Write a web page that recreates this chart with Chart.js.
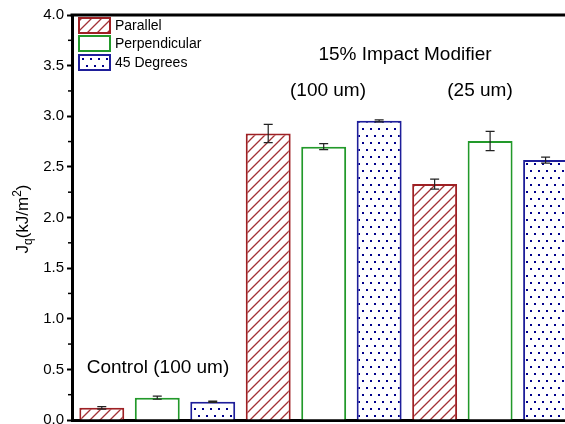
<!DOCTYPE html>
<html>
<head>
<meta charset="utf-8">
<script src="https://cdn.jsdelivr.net/npm/chart.js@4"></script>
<style>
  html, body { margin: 0; padding: 0; background: #fff; overflow: hidden; }
  #wrap { width: 565px; height: 424px; }
</style>
</head>
<body>
<div id="wrap"><canvas id="chart" width="565" height="424"></canvas></div>
<script>
// data
const groups = ['Control (100 um)', '15% Impact Modifier (100 um)', '15% Impact Modifier (25 um)'];
const orientations = ['Parallel', 'Perpendicular', '45 Degrees'];
const parallel = [0.12, 2.83, 2.33];
const parallelErr = [0.012, 0.09, 0.05];
const perpendicular = [0.22, 2.70, 2.755];
const perpendicularErr = [0.015, 0.03, 0.095];
const degrees45 = [0.18, 2.955, 2.567];
const degrees45Err = [0.006, 0.01, 0.03];
const yTicks = [0, 0.5, 1, 1.5, 2, 2.5, 3, 3.5, 4];

const FONT = "'Liberation Sans', Arial, sans-serif";
const red = '#9E2024';
const green = '#22992A';
const blue = '#1E1E9A';

function hatchPattern() {
    const c = document.createElement('canvas');
    c.width = 10; c.height = 10;
    const g = c.getContext('2d');
    g.fillStyle = '#fff';
    g.fillRect(0, 0, 10, 10);
    g.strokeStyle = '#A33236';
    g.lineWidth = 1.3;
    g.beginPath();
    g.moveTo(-1, 11); g.lineTo(11, -1);
    g.moveTo(-6, 6); g.lineTo(6, -6);
    g.moveTo(4, 16); g.lineTo(16, 4);
    g.stroke();
    return g.createPattern(c, 'repeat');
}

function dotPattern() {
    const c = document.createElement('canvas');
    c.width = 16; c.height = 14;
    const g = c.getContext('2d');
    g.fillStyle = '#fff';
    g.fillRect(0, 0, 16, 14);
    g.fillStyle = '#00008B';
    [[2, 2], [10, 2], [6, 9], [14, 9]].forEach(p => g.fillRect(p[0], p[1], 2, 2));
    return g.createPattern(c, 'repeat');
}

const fills = [hatchPattern(), '#ffffff', dotPattern()];
const borders = [red, green, blue];
const series = [parallel, perpendicular, degrees45];
const errs = [parallelErr, perpendicularErr, degrees45Err];

const datasets = orientations.map((name, k) => ({
    label: name,
    data: series[k].map((v, g) => ({ x: g * 3 + k + 1, y: v })),
    errors: errs[k],
    backgroundColor: fills[k],
    borderColor: borders[k],
    borderWidth: 2,
    borderSkipped: 'bottom',
    grouped: false,
    categoryPercentage: 1,
    barPercentage: 0.81
}));

// error bars
const errorBars = {
    id: 'errorBars',
    afterDatasetsDraw(chart) {
        const ctx = chart.ctx;
        const y = chart.scales.y;
        ctx.save();
        ctx.strokeStyle = '#222';
        ctx.lineWidth = 1.2;
        chart.data.datasets.forEach((ds, i) => {
            chart.getDatasetMeta(i).data.forEach((bar, j) => {
                const v = ds.data[j].y, e = ds.errors[j];
                const top = y.getPixelForValue(v + e), bot = y.getPixelForValue(v - e);
                ctx.beginPath();
                ctx.moveTo(bar.x, top); ctx.lineTo(bar.x, bot);
                ctx.moveTo(bar.x - 4.5, top); ctx.lineTo(bar.x + 4.5, top);
                ctx.moveTo(bar.x - 4.5, bot); ctx.lineTo(bar.x + 4.5, bot);
                ctx.stroke();
            });
        });
        ctx.restore();
    }
};

// frame, minor ticks, axis title, legend, annotations
const decorations = {
    id: 'decorations',
    afterDraw(chart) {
        const ctx = chart.ctx;
        const a = chart.chartArea;
        const y = chart.scales.y;
        ctx.save();
        // top frame line
        ctx.strokeStyle = '#000';
        ctx.lineWidth = 3;
        ctx.beginPath();
        ctx.moveTo(a.left - 1.5, a.top); ctx.lineTo(chart.width, a.top);
        ctx.stroke();
        // minor ticks
        ctx.lineWidth = 1.5;
        for (let v = 0.25; v < 4; v += 0.5) {
            const py = y.getPixelForValue(v);
            ctx.beginPath();
            ctx.moveTo(a.left - 1, py); ctx.lineTo(a.left - 4, py);
            ctx.stroke();
        }
        // y title J_q(kJ/m^2)
        ctx.translate(28, 219);
        ctx.rotate(-Math.PI / 2);
        ctx.fillStyle = '#000';
        ctx.textBaseline = 'alphabetic';
        const big = '17px ' + FONT, small = '12px ' + FONT;
        const parts = [['J', big, 0], ['q', small, 4], ['(kJ/m', big, 0], ['2', small, -7], [')', big, 0]];
        let total = 0;
        parts.forEach(p => { ctx.font = p[1]; total += ctx.measureText(p[0]).width; });
        let x = -total / 2;
        parts.forEach(p => {
            ctx.font = p[1];
            ctx.fillText(p[0], x, p[2]);
            x += ctx.measureText(p[0]).width;
        });
        ctx.setTransform(1, 0, 0, 1, 0, 0);
        // legend
        const rows = [18, 36, 55];
        ctx.font = '14px ' + FONT;
        ctx.textBaseline = 'middle';
        orientations.forEach((name, k) => {
            ctx.fillStyle = fills[k];
            ctx.fillRect(79, rows[k], 31, 15);
            ctx.strokeStyle = borders[k];
            ctx.lineWidth = 2;
            ctx.strokeRect(79, rows[k], 31, 15);
            ctx.fillStyle = '#000';
            ctx.fillText(name, 115, rows[k] + 8);
        });
        // annotations
        ctx.font = '19px ' + FONT;
        ctx.textAlign = 'center';
        ctx.textBaseline = 'alphabetic';
        ctx.fillText('Control (100 um)', 158, 373);
        ctx.fillText('15% Impact Modifier', 405, 60);
        ctx.fillText('(100 um)', 328, 96);
        ctx.fillText('(25 um)', 480, 96);
        ctx.restore();
    }
};

new Chart(document.getElementById('chart'), {
    type: 'bar',
    data: { datasets },
    options: {
        responsive: false,
        animation: false,
        layout: { padding: { top: 15, right: 0, bottom: 0, left: 0 } },
        plugins: { legend: { display: false }, tooltip: { enabled: false } },
        scales: {
            x: {
                type: 'linear',
                offset: false,
                min: 0.463,
                max: 9.35,
                ticks: { display: false },
                grid: { display: false },
                border: { display: true, color: '#000', width: 3 },
                afterFit(s) { s.height = 4; }
            },
            y: {
                min: 0,
                max: 4,
                afterBuildTicks(s) { s.ticks = yTicks.map(v => ({ value: v })); },
                ticks: {
                    color: '#000',
                    padding: 3,
                    font: { family: FONT, size: 15 },
                    callback: v => v.toFixed(1)
                },
                grid: { drawOnChartArea: false, drawTicks: true, tickLength: 5, tickWidth: 2, tickColor: '#000' },
                border: { display: true, color: '#000', width: 3 },
                afterFit(s) { s.width = 72; s.paddingTop = 0; s.paddingBottom = 0; }
            }
        }
    },
    plugins: [errorBars, decorations]
});
</script>
</body>
</html>
